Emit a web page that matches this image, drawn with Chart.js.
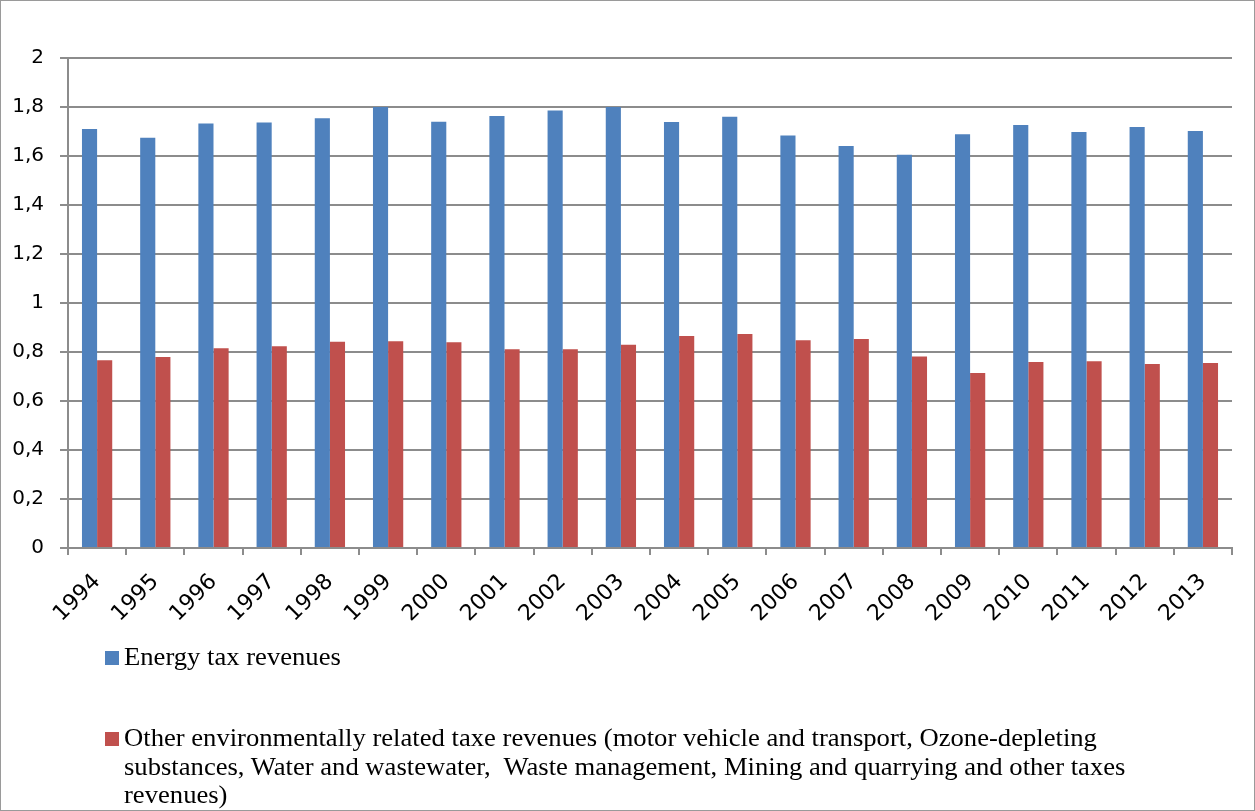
<!DOCTYPE html>
<html>
<head>
<meta charset="utf-8">
<script src="https://cdn.jsdelivr.net/npm/chart.js@4.4.1/dist/chart.umd.min.js"></script>
<style>
    html, body { margin: 0; padding: 0; background: #fff; }
    #marco {
        position: relative;
        width: 1253px;
        height: 809px;
        border: 1px solid #9a9a9a;
        overflow: hidden;
    }
    #grafica { position: absolute; left: -1px; top: -1px; }
    .leyenda {
        position: absolute;
        left: 104px;
        font-family: "Liberation Serif", "Times New Roman", serif;
        font-size: 25px;
        line-height: 28.5px;
        color: #000;
    }
    .leyenda .cuadro {
        position: absolute;
        left: 0;
        width: 14px;
        height: 14px;
    }
    .leyenda .texto {
        margin-left: 19px;
        white-space: pre;
        transform: scaleX(1.065);
        transform-origin: left top;
    }
</style>
</head>
<body>
<div id="marco">
    <canvas id="grafica" width="1255" height="811"></canvas>
    <div class="leyenda" style="top: 642px;"><div class="cuadro" style="background:#4F81BD; top: 8px;"></div><div class="texto" id="txtEnergia"></div></div>
    <div class="leyenda" style="top: 723px;"><div class="cuadro" style="background:#C0504D; top: 8px;"></div><div class="texto" id="txtOtros"></div></div>
</div>
<script>
// Datos
const anios = ["1994", "1995", "1996", "1997", "1998", "1999", "2000", "2001", "2002", "2003",
    "2004", "2005", "2006", "2007", "2008", "2009", "2010", "2011", "2012", "2013"];
const energia = [1.71, 1.675, 1.733, 1.737, 1.754, 1.80, 1.74, 1.763, 1.786, 1.80,
    1.739, 1.76, 1.684, 1.641, 1.605, 1.689, 1.727, 1.698, 1.718, 1.702];
const otros = [0.766, 0.78, 0.815, 0.823, 0.842, 0.844, 0.84, 0.811, 0.811, 0.83,
    0.865, 0.873, 0.848, 0.853, 0.782, 0.714, 0.759, 0.762, 0.751, 0.755];
const ticksY = [0, 0.2, 0.4, 0.6, 0.8, 1, 1.2, 1.4, 1.6, 1.8, 2];

const etiquetaEnergia = "Energy tax revenues";
const etiquetaOtros = [
    "Other environmentally related taxe revenues (motor vehicle and transport, Ozone-depleting",
    "substances, Water and wastewater,  Waste management, Mining and quarrying and other taxes",
    "revenues)"
];

document.getElementById("txtEnergia").textContent = etiquetaEnergia;
document.getElementById("txtOtros").textContent = etiquetaOtros.join("\n");

const gris = "#8c8c8c";

new Chart(document.getElementById("grafica"), {
    type: "bar",
    data: {
        labels: anios,
        datasets: [
            {
                label: etiquetaEnergia,
                data: energia,
                backgroundColor: "#4F81BD",
                categoryPercentage: 0.52,
                barPercentage: 1
            },
            {
                label: etiquetaOtros.join(" "),
                data: otros,
                backgroundColor: "#C0504D",
                categoryPercentage: 0.52,
                barPercentage: 1
            }
        ]
    },
    options: {
        responsive: false,
        devicePixelRatio: 1,
        animation: false,
        layout: { padding: { left: 0, top: 58, right: 23, bottom: 0 } },
        plugins: {
            legend: { display: false },
            tooltip: { enabled: false }
        },
        scales: {
            x: {
                afterFit: (scale) => { scale.height = 263; },
                grid: {
                    offset: true,
                    drawOnChartArea: false,
                    drawTicks: true,
                    tickLength: 7,
                    color: gris,
                    lineWidth: 2
                },
                border: { color: gris, width: 2 },
                ticks: {
                    autoSkip: false,
                    minRotation: 45,
                    maxRotation: 45,
                    padding: 14,
                    color: "#000",
                    font: { family: "DejaVu Sans", size: 22 }
                }
            },
            y: {
                min: 0,
                max: 2,
                afterFit: (scale) => { scale.width = 68; },
                afterBuildTicks: (scale) => {
                    scale.ticks = ticksY.map(v => ({ value: v }));
                },
                grid: {
                    color: gris,
                    lineWidth: 2,
                    tickLength: 8
                },
                border: { color: gris, width: 2 },
                ticks: {
                    padding: 16,
                    color: "#000",
                    font: { family: "DejaVu Sans", size: 20 },
                    callback: (v) => String(Number(v.toFixed(1))).replace(".", ",")
                }
            }
        }
    }
});
</script>
</body>
</html>
